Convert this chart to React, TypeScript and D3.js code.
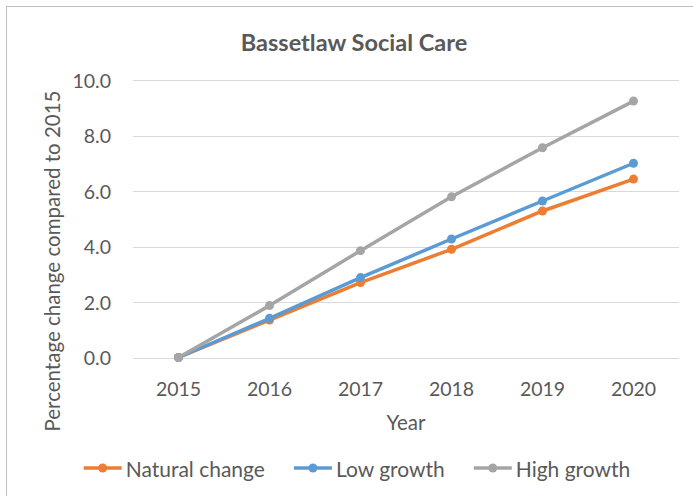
import React, { useEffect, useRef } from 'react';
import * as d3 from 'd3';

const years = ['2015', '2016', '2017', '2018', '2019', '2020'];
const naturalChange = [0, 1.35, 2.7, 3.9, 5.28, 6.43];
const lowGrowth = [0, 1.41, 2.88, 4.27, 5.64, 7.0];
const highGrowth = [0, 1.87, 3.85, 5.79, 7.56, 9.24];
const yTicks = [0, 2, 4, 6, 8, 10];

const seriesNames = ['Natural change', 'Low growth', 'High growth'];
const seriesColors = ['#ED7D31', '#5B9BD5', '#A5A5A5'];

const W = 693;
const H = 496;
const FONT = 'Lato, "Open Sans", sans-serif';
const TEXT = '#595959';

const App: React.FC = () => {
  const svgRef = useRef<SVGSVGElement>(null);

  useEffect(() => {
    document.body.style.margin = '0';
    if (!svgRef.current) return;
    const svg = d3.select(svgRef.current);
    svg.selectAll('*').remove();

    const plot = { left: 133, right: 679, top: 80, bottom: 357.5 };
    const series = [naturalChange, lowGrowth, highGrowth];

    // chart border
    svg.append('rect')
      .attr('x', 6.5).attr('y', 6.5)
      .attr('width', W + 20).attr('height', H + 20)
      .attr('fill', '#fff')
      .attr('stroke', '#BFBFBF');

    const x = d3.scalePoint<string>()
      .domain(years)
      .range([plot.left, plot.right])
      .padding(0.5);

    const y = d3.scaleLinear()
      .domain([0, 10])
      .range([plot.bottom, plot.top]);

    // title
    svg.append('text')
      .attr('x', 354).attr('y', 42)
      .attr('text-anchor', 'middle')
      .attr('dominant-baseline', 'central')
      .attr('font-family', FONT)
      .attr('font-weight', 'bold')
      .attr('font-size', 23.5)
      .attr('fill', TEXT)
      .text('Bassetlaw Social Care');

    // grid lines
    svg.append('g')
      .selectAll('line')
      .data(yTicks)
      .join('line')
      .attr('x1', plot.left).attr('x2', plot.right)
      .attr('y1', d => Math.round(y(d)) + 0.5)
      .attr('y2', d => Math.round(y(d)) + 0.5)
      .attr('stroke', '#D9D9D9')
      .attr('stroke-width', 1);

    // y tick labels
    svg.append('g')
      .selectAll('text')
      .data(yTicks)
      .join('text')
      .attr('x', 111)
      .attr('y', d => y(d))
      .attr('text-anchor', 'end')
      .attr('dominant-baseline', 'central')
      .attr('font-family', FONT)
      .attr('font-size', 19.5)
      .attr('fill', TEXT)
      .text(d => d.toFixed(1));

    // x tick labels
    svg.append('g')
      .selectAll('text')
      .data(years)
      .join('text')
      .attr('x', d => x(d) as number)
      .attr('y', 388)
      .attr('text-anchor', 'middle')
      .attr('dominant-baseline', 'central')
      .attr('font-family', FONT)
      .attr('font-size', 19.5)
      .attr('fill', TEXT)
      .text(d => d);

    // axis titles
    svg.append('text')
      .attr('x', (plot.left + plot.right) / 2)
      .attr('y', 422)
      .attr('text-anchor', 'middle')
      .attr('dominant-baseline', 'central')
      .attr('font-family', FONT)
      .attr('font-size', 20.5)
      .attr('fill', TEXT)
      .text('Year');

    svg.append('text')
      .attr('transform', 'translate(52,261) rotate(-90)')
      .attr('text-anchor', 'middle')
      .attr('dominant-baseline', 'central')
      .attr('font-family', FONT)
      .attr('font-size', 20.5)
      .attr('fill', TEXT)
      .text('Percentage change compared to 2015');

    // lines + markers
    const line = d3.line<number>()
      .x((_, i) => x(years[i]) as number)
      .y(d => y(d));

    series.forEach((vals, si) => {
      const g = svg.append('g');
      g.append('path')
        .datum(vals)
        .attr('fill', 'none')
        .attr('stroke', seriesColors[si])
        .attr('stroke-width', 3.5)
        .attr('stroke-linejoin', 'round')
        .attr('d', line);
      g.selectAll('circle')
        .data(vals)
        .join('circle')
        .attr('cx', (_, i) => x(years[i]) as number)
        .attr('cy', d => y(d))
        .attr('r', 4.5)
        .attr('fill', seriesColors[si]);
    });

    // legend
    const legend = svg.append('g');
    const items = seriesNames.map((name, i) => {
      const g = legend.append('g');
      g.append('line')
        .attr('x1', 0).attr('x2', 38)
        .attr('y1', 0).attr('y2', 0)
        .attr('stroke', seriesColors[i])
        .attr('stroke-width', 3.5);
      g.append('circle')
        .attr('cx', 19).attr('cy', 0).attr('r', 4.5)
        .attr('fill', seriesColors[i]);
      const t = g.append('text')
        .attr('x', 42).attr('y', 0)
        .attr('dominant-baseline', 'central')
        .attr('font-family', FONT)
        .attr('font-size', 21)
        .attr('fill', TEXT)
        .text(name);
      const w = 42 + (t.node() as SVGTextElement).getComputedTextLength();
      return { g, w };
    });
    const gap = 29;
    const total = d3.sum(items, d => d.w) + gap * (items.length - 1);
    let cx = 357 - total / 2;
    items.forEach(it => {
      it.g.attr('transform', `translate(${cx},468)`);
      cx += it.w + gap;
    });
  }, []);

  return (
    <svg ref={svgRef} width={W} height={H} style={{ display: 'block' }} />
  );
};

export default App;
